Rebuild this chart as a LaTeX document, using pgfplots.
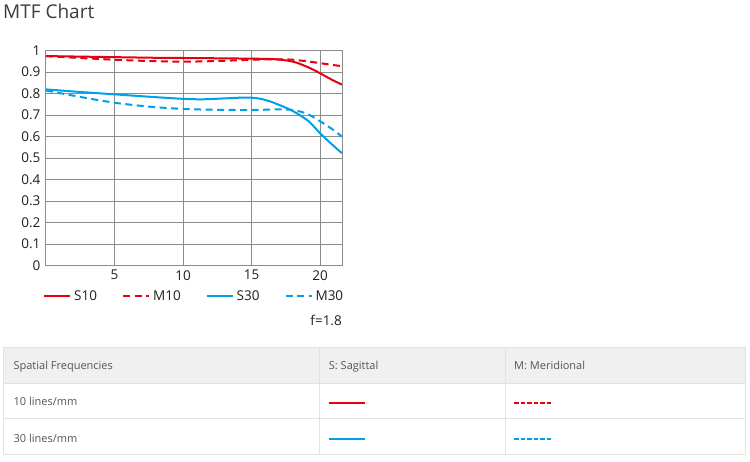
\documentclass[border=0pt]{standalone}
\usepackage{pgfplots}
\pgfplotsset{compat=1.18}
\usepackage{fontspec}
\setmainfont{Open Sans}
\definecolor{mtfred}{HTML}{E60012}
\definecolor{mtfblue}{HTML}{00A0E9}
\definecolor{gridgray}{HTML}{8C8C8C}
\definecolor{titletxt}{HTML}{3C3C3C}
\definecolor{tabtxt}{HTML}{555555}
\definecolor{headgray}{HTML}{F0F0F0}
\definecolor{bordergray}{HTML}{E2E2E2}

\pgfplotstableread{
x y
0 0.975
2 0.973
5 0.970
8 0.967
10 0.966
12 0.965
15 0.963
16.5 0.961
17.5 0.955
18.3 0.944
19.3 0.918
20 0.895
20.8 0.867
21.6 0.842
}\sten
\pgfplotstableread{
x y
0 0.975
2.5 0.966
5 0.958
7.5 0.952
10 0.949
12.5 0.952
15 0.958
17 0.960
18 0.958
19 0.951
20 0.942
21 0.933
21.6 0.928
}\mten
\pgfplotstableread{
x y
0 0.820
2.5 0.808
5 0.797
7.5 0.786
10 0.776
11.5 0.774
13 0.778
14.5 0.782
15.5 0.778
16.4 0.763
17.6 0.732
18.3 0.709
19.2 0.670
20 0.616
20.8 0.568
21.6 0.523
}\sthirty
\pgfplotstableread{
x y
0 0.815
2.5 0.785
5 0.758
7.5 0.740
10 0.729
12.5 0.725
15 0.724
17 0.727
18 0.724
19 0.708
20 0.672
21 0.630
21.6 0.600
}\mthirty

\begin{document}
\begin{tikzpicture}[x=1pt,y=1pt]
\fill[white] (0,0) rectangle (750,462);
\node[anchor=base west, inner sep=0, text=titletxt, font=\fontsize{19}{19}\selectfont] at (3,443) {MTF Chart};
\begin{axis}[
  at={(46pt,196.3pt)}, anchor=south west,
  scale only axis, width=296pt, height=215pt,
  xmin=0, xmax=21.6, ymin=0, ymax=1,
  xtick={5,10,15,20},
  ytick={0,0.1,0.2,0.3,0.4,0.5,0.6,0.7,0.8,0.9,1},
  yticklabels={0,0.1,0.2,0.3,0.4,0.5,0.6,0.7,0.8,0.9,1},
  xticklabels={5,10,15,20},
  grid=major,
  major grid style={gridgray, line width=1pt},
  axis line style={gridgray, line width=1pt},
  major tick length=0pt,
  tick label style={font=\fontsize{13.5}{13.5}\selectfont, text=black!88},
  yticklabel style={xshift=-2pt},
  xticklabel style={yshift=-1pt},
  legend columns=4,
  legend style={at={(axis description cs:-0.01,-0.141)}, anchor=west,
    draw=none, fill=none, inner sep=0pt,
    font=\fontsize{13.5}{13.5}\selectfont, text=black!88,
    /tikz/every even column/.append style={column sep=22pt},
    nodes={inner xsep=3pt, inner ysep=0pt}},
  legend cell align=left,
  legend image code/.code={\draw[#1] (0pt,0pt) -- (26pt,0pt);},
]
\addplot[mtfred, line width=2pt, smooth, tension=0.5] table {\sten};
\addlegendentry{S10}
\addplot[mtfred, line width=2pt, smooth, tension=0.5, dash pattern=on 7pt off 4.5pt] table {\mten};
\addlegendentry{M10}
\addplot[mtfblue, line width=2pt, smooth, tension=0.5] table {\sthirty};
\addlegendentry{S30}
\addplot[mtfblue, line width=2pt, smooth, tension=0.5, dash pattern=on 7pt off 4.5pt] table {\mthirty};
\addlegendentry{M30}
\end{axis}
\node[anchor=base east, inner sep=0, text=black!88, font=\fontsize{13.5}{13.5}\selectfont] at (342,136.7) {f=1.8};
% table
\fill[headgray] (3.5,114.7) rectangle (745,78.7);
\draw[bordergray, line width=1pt] (3.5,114.7) rectangle (745,7.7);
\draw[bordergray, line width=1pt] (3.5,78.7) -- (745,78.7);
\draw[bordergray, line width=1pt] (3.5,43) -- (745,43);
\draw[bordergray, line width=1pt] (319,114.7) -- (319,7.7);
\draw[bordergray, line width=1pt] (505,114.7) -- (505,7.7);
\begin{scope}[every node/.style={anchor=base west, inner sep=0, text=tabtxt, font=\fontsize{11}{11}\selectfont}]
\node at (13.4,92) {Spatial Frequencies};
\node at (328.7,92) {S: Sagittal};
\node at (514,92) {M: Meridional};
\node at (13.4,56) {10 lines/mm};
\node at (13.4,19.5) {30 lines/mm};
\end{scope}
\draw[mtfred, line width=2pt] (328.7,59) -- (365,59);
\draw[mtfred, line width=2pt, dash pattern=on 4.5pt off 2pt] (514,59) -- (551,59);
\draw[mtfblue, line width=2pt] (328.7,23.3) -- (365,23.3);
\draw[mtfblue, line width=2pt, dash pattern=on 4.5pt off 2pt] (514,23.3) -- (551,23.3);
\end{tikzpicture}
\end{document}
